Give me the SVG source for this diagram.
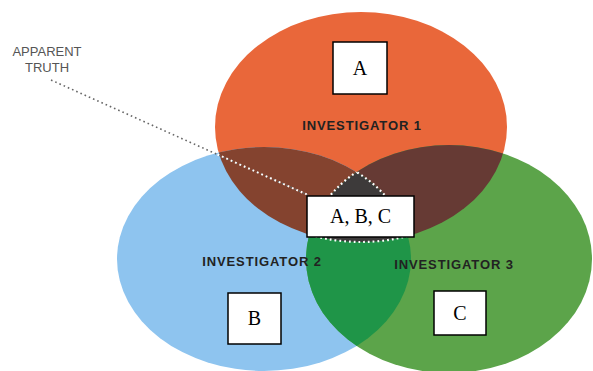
<svg xmlns="http://www.w3.org/2000/svg" width="593" height="371" viewBox="0 0 593 371">
<defs>
<clipPath id="cO"><ellipse cx="361" cy="127" rx="146" ry="115"/></clipPath>
<clipPath id="cB"><ellipse cx="264" cy="259" rx="147" ry="112"/></clipPath>
<clipPath id="cG"><ellipse cx="449" cy="259" rx="143" ry="114"/></clipPath>
<clipPath id="cAll"><ellipse cx="361" cy="127" rx="146" ry="115"/><ellipse cx="264" cy="259" rx="147" ry="112"/><ellipse cx="449" cy="259" rx="143" ry="114"/></clipPath>
<style>
.lab{font-family:"Liberation Sans",Arial,sans-serif;font-weight:bold;font-size:13px;letter-spacing:0.9px;fill:#222;text-anchor:middle}
.box{fill:#fff;stroke:#000;stroke-width:1.5}
.bt{font-family:"Liberation Serif","Times New Roman",serif;font-size:20px;fill:#000;text-anchor:middle}
.ap{font-family:"Liberation Sans",Arial,sans-serif;font-size:13px;fill:#555;text-anchor:middle}
.dotw{fill:none;stroke:#fff;stroke-width:2.2;stroke-dasharray:1.8 3;stroke-linecap:butt}
</style>
</defs>
<rect width="593" height="371" fill="#fff"/>
<g id="investigator1">
<ellipse cx="361" cy="127" rx="146" ry="115" fill="#E9673A"/>
</g>
<g id="investigator2">
<ellipse cx="264" cy="259" rx="147" ry="112" fill="#8EC4EF"/>
</g>
<g id="investigator3">
<ellipse cx="449" cy="259" rx="143" ry="114" fill="#5CA44A"/>
</g>
<g id="overlaps">
<ellipse cx="361" cy="127" rx="146" ry="115" fill="#84432F" clip-path="url(#cB)"/>
<ellipse cx="361" cy="127" rx="146" ry="115" fill="#663A34" clip-path="url(#cG)"/>
<ellipse cx="264" cy="259" rx="147" ry="112" fill="#1F9548" clip-path="url(#cG)"/>
<g clip-path="url(#cO)"><ellipse cx="264" cy="259" rx="147" ry="112" fill="#3D3A3A" clip-path="url(#cG)"/></g>
</g>
<g id="apparent-truth-outline">
<g clip-path="url(#cO)"><ellipse class="dotw" cx="264" cy="259" rx="147" ry="112" clip-path="url(#cG)"/></g>
<g clip-path="url(#cO)"><ellipse class="dotw" cx="449" cy="259" rx="143" ry="114" clip-path="url(#cB)"/></g>
<g clip-path="url(#cB)"><ellipse class="dotw" cx="361" cy="127" rx="146" ry="115" clip-path="url(#cG)"/></g>
</g>
<g id="connectors">
<line x1="51" y1="80" x2="308" y2="195" stroke="#666" stroke-width="1.6" stroke-dasharray="1.6 3"/>
<line x1="51" y1="80" x2="308" y2="195" stroke="#fff" stroke-width="2" stroke-dasharray="1.8 3" clip-path="url(#cAll)"/>
</g>
<g id="labels">
<text class="lab" x="362" y="130">INVESTIGATOR 1</text>
<text class="lab" x="262" y="266">INVESTIGATOR 2</text>
<text class="lab" x="454" y="269">INVESTIGATOR 3</text>
</g>
<g id="apparent-truth">
<text class="ap" x="47" y="56">APPARENT</text>
<text class="ap" x="47" y="72">TRUTH</text>
</g>
<g id="box-A">
<rect class="box" x="333" y="42" width="54" height="52"/>
<text class="bt" x="360" y="75">A</text>
</g>
<g id="box-ABC">
<rect class="box" x="307" y="196" width="107" height="41"/>
<text class="bt" x="360.5" y="223">A, B, C</text>
</g>
<g id="box-B">
<rect class="box" x="228" y="293" width="53" height="51"/>
<text class="bt" x="254.5" y="325">B</text>
</g>
<g id="box-C">
<rect class="box" x="434" y="291" width="52" height="44"/>
<text class="bt" x="460" y="320">C</text>
</g>
</svg>
